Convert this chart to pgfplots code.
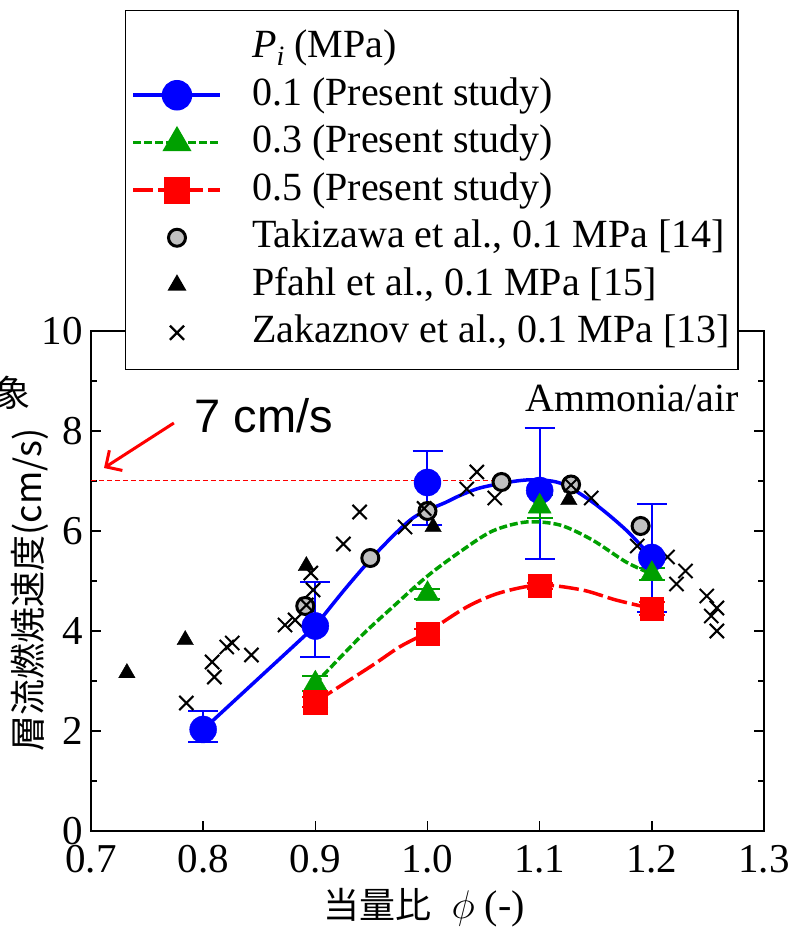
\RequirePackage{fix-cm}
\documentclass[border=0pt]{standalone}
\usepackage{fontspec}
\setmainfont{Liberation Serif}
\newfontfamily\cjk{Noto Sans CJK JP}
\newfontfamily\arial{Liberation Sans}
\usepackage{pgfplots}
\pgfplotsset{compat=1.18}
\usetikzlibrary{arrows.meta}
\definecolor{myblue}{RGB}{0,0,255}
\definecolor{mygreen}{RGB}{0,160,0}
\definecolor{myred}{RGB}{255,0,0}
\definecolor{mygray}{RGB}{192,192,192}

\pgfplotstableread{
x y ep em
0.8 2.03 0.37 0.25
0.9 4.10 0.88 0.62
1.0 6.97 0.62 0.85
1.1 6.81 1.25 1.37
1.2 5.47 1.07 1.09
}\blue
\pgfplotstableread{
x y ep em
0.9 2.95 0.15 0.15
1.0 4.74 0.10 0.10
1.1 6.49 0.23 0.23
1.2 5.14 0.12 0.12
}\green
\pgfplotstableread{
x y ep em
0.9 2.58 0.10 0.10
1.0 3.94 0.10 0.10
1.1 4.90 0.06 0.06
1.2 4.45 0.13 0.13
}\red

\begin{document}
\begin{tikzpicture}
\begin{axis}[
 at={(0pt,0pt)}, anchor=south west,
 scale only axis, width=673pt, height=500pt,
 xmin=0.7, xmax=1.3, ymin=0, ymax=10,
 clip=false,
 xtick={0.7,0.8,0.9,1.0,1.1,1.2,1.3},
 ytick={0,2,4,6,8,10}, minor y tick num=1,
 tick align=inside, major tick length=10pt, minor tick length=6pt,
 axis line style={line width=2pt},
 every tick/.style={black, line width=1.5pt},
 /pgf/number format/assume math mode=true,
 tick label style={font=\fontsize{41}{48}\selectfont},
 xticklabel style={/pgf/number format/.cd,fixed,fixed zerofill,precision=1,/tikz/.cd, inner sep=0pt, yshift=-14pt},
 yticklabel style={inner sep=0pt, xshift=-8pt},
 xlabel={{\cjk\fontsize{36}{40}\selectfont 当量比}\ \ $\phi$ (-)},
 xlabel style={font=\fontsize{40}{48}\selectfont, at={(axis description cs:0.495,-0.154)}, anchor=center},
 ylabel={\cjk 層流燃焼速度(cm/s)},
 ylabel style={font=\fontsize{36}{40}\selectfont, at={(axis description cs:-0.0906,0.482)}, anchor=center},
 legend cell align=left,
 legend style={at={(axis description cs:0.0505,1.642)}, anchor=north west,
   draw=black, line width=1.5pt, fill=white, inner xsep=6pt, inner ysep=15pt,
   font=\fontsize{40}{48}\selectfont, row sep=3.5pt,
   nodes={inner sep=2pt, text height=30pt, text depth=10pt},
   /tikz/every odd column/.append style={column sep=28pt}},
 legend image code/.code={\draw[mark repeat=2,mark phase=2,#1] plot coordinates {(0pt,0pt) (43.5pt,0pt) (87pt,0pt)};},
]
\addlegendimage{empty legend}
\addlegendentry{{\itshape P}\raisebox{-8pt}{\fontsize{28}{28}\selectfont\itshape i} (MPa)}
\addlegendimage{myblue, line width=3.5pt, mark=*, mark size=13.5pt, mark options={solid}}
\addlegendentry{0.1 (Present study)}
\addlegendimage{mygreen, line width=3.5pt, dash pattern=on 8pt off 3pt, mark=triangle*, mark size=13.3pt, mark options={solid}}
\addlegendentry{0.3 (Present study)}
\addlegendimage{myred, line width=3.5pt, dash pattern=on 20pt off 5pt, mark=square*, mark size=11.7pt, mark options={solid}}
\addlegendentry{0.5 (Present study)}
\addlegendimage{only marks, mark=*, mark size=8.5pt, mark options={fill=mygray, draw=black, line width=3pt}}
\addlegendentry{Takizawa et al., 0.1 MPa [14]}
\addlegendimage{only marks, black, mark=triangle*, mark size=9.5pt}
\addlegendentry{Pfahl et al., 0.1 MPa [15]}
\addlegendimage{only marks, black, mark=x, mark size=10pt, mark options={line width=2.2pt}}
\addlegendentry{Zakaznov et al., 0.1 MPa [13]\hspace{7pt}}

% 7 cm/s reference line
\addplot[myred, line width=1pt, dash pattern=on 5pt off 3pt, forget plot] coordinates {(0.7,7) (1.09,7)};

% Takizawa
\addplot[only marks, mark=*, mark size=8.5pt, mark options={fill=mygray, draw=black, line width=3pt}, forget plot] coordinates {
(0.891,4.5) (0.949,5.46) (1.0,6.4) (1.066,6.98) (1.128,6.93) (1.19,6.1)};
% Pfahl
\addplot[only marks, black, mark=triangle*, mark size=9.5pt, forget plot] coordinates {
(0.732,3.16) (0.784,3.82) (0.892,5.3) (1.005,6.08) (1.126,6.62)};
% Zakaznov
\addplot[only marks, black, mark=x, mark size=10pt, mark options={line width=2pt}, forget plot] coordinates {
(0.785,2.56) (0.81,3.08) (0.808,3.38) (0.821,3.68) (0.826,3.76) (0.843,3.52)
(0.873,4.12) (0.882,4.22) (0.892,4.52) (0.898,4.82) (0.896,5.16) (0.925,5.74)
(0.9395,6.38) (0.98,6.08) (0.997,6.45) (1.035,6.84) (1.044,7.18) (1.06,6.66)
(1.128,6.92) (1.146,6.66) (1.187,5.7) (1.214,5.48) (1.23,5.2) (1.222,4.94)
(1.249,4.7) (1.258,4.46) (1.253,4.3) (1.258,4.0)};

% 0.1 MPa
\addplot[myblue, line width=3.5pt, forget plot] coordinates {(0.8,2.03) (0.9,4.1)};
\addplot[myblue, line width=3.5pt, smooth, forget plot] coordinates {
(0.9,4.1) (0.928,4.88) (0.957,5.62) (0.987,6.26) (1.017,6.58) (1.03,6.72) (1.05,6.88)
(1.088,7.02) (1.118,6.96) (1.147,6.58) (1.177,6.02) (1.2,5.47)};
\addplot[myblue, only marks, mark=*, mark size=13.5pt, forget plot,
 error bars/.cd, y dir=both, y explicit,
 error bar style={line width=2pt, myblue},
 error mark options={rotate=90, mark size=15pt, line width=2pt, myblue}]
 table[x=x, y=y, y error plus=ep, y error minus=em] {\blue};

% 0.3 MPa
\addplot[mygreen, line width=3.5pt, dash pattern=on 8pt off 3pt, smooth, forget plot] coordinates {
(0.9,2.95) (0.94,3.88) (0.97,4.5) (1.0,5.1) (1.03,5.6) (1.058,6.0) (1.088,6.18)
(1.118,6.12) (1.147,5.82) (1.177,5.38) (1.2,5.14)};
\addplot[mygreen, only marks, mark=triangle*, mark size=13.3pt, forget plot,
 error bars/.cd, y dir=both, y explicit,
 error bar style={line width=2pt, mygreen},
 error mark options={rotate=90, mark size=13pt, line width=2pt, mygreen}]
 table[x=x, y=y, y error plus=ep, y error minus=em] {\green};

% 0.5 MPa
\addplot[myred, line width=3.5pt, dash pattern=on 20pt off 5pt, smooth, forget plot] coordinates {
(0.9,2.58) (0.95,3.3) (0.975,3.68) (1.0,3.98) (1.035,4.48) (1.064,4.76) (1.1,4.92)
(1.138,4.82) (1.168,4.62) (1.2,4.45)};
\addplot[myred, only marks, mark=square*, mark size=11.7pt, forget plot,
 error bars/.cd, y dir=both, y explicit,
 error bar style={line width=2pt, myred},
 error mark options={rotate=90, mark size=13pt, line width=2pt, myred}]
 table[x=x, y=y, y error plus=ep, y error minus=em] {\red};

% annotations
\draw[myred, line width=3pt, -{Straight Barb[length=12pt,width=24pt]}] (axis cs:0.7739,8.16) -- (axis cs:0.7116,7.26);
\node[font=\arial\fontsize{47}{50}\selectfont, anchor=base] at (axis cs:0.854,7.96) {7 cm/s};
\node[font=\fontsize{40}{48}\selectfont, anchor=base] at (axis cs:1.1826,8.38) {Ammonia/air};
\node[font=\cjk\fontsize{36}{36}\selectfont, anchor=center] at (axis description cs:-0.117,0.876) {象};
\end{axis}
\pgfresetboundingbox
\path[use as bounding box] (-91pt,-98pt) rectangle (699pt,831pt);
\end{tikzpicture}
\end{document}
